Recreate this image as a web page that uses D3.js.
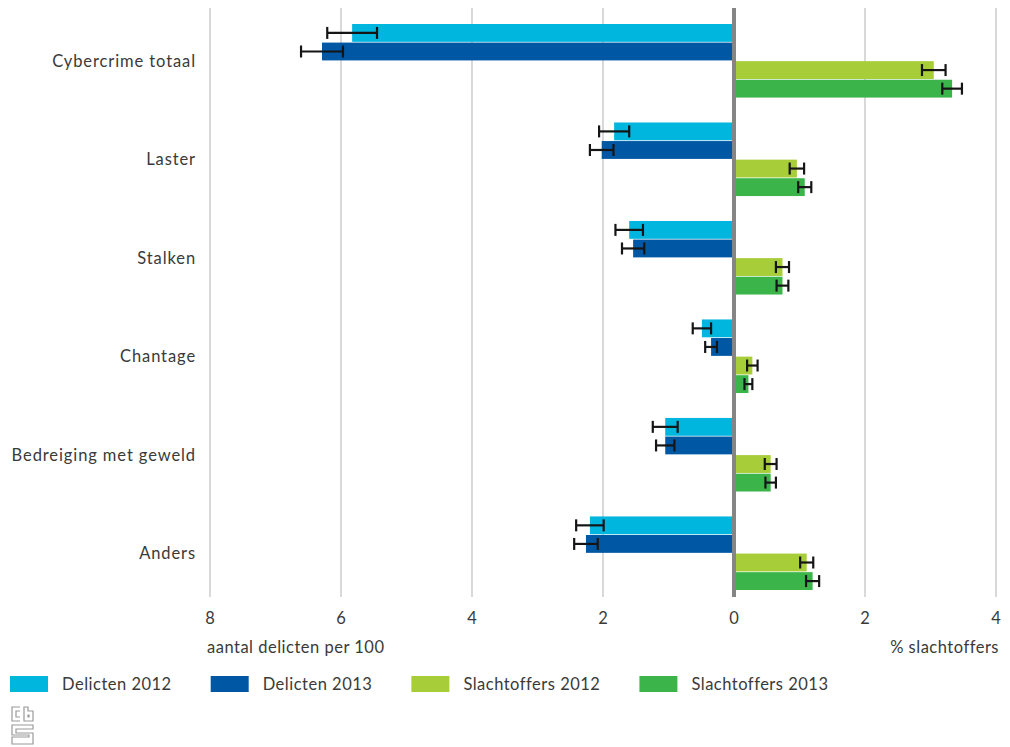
<!DOCTYPE html>
<html>
<head>
<meta charset="utf-8">
<script src="https://cdn.jsdelivr.net/npm/d3@7"></script>
<style>
  html, body { margin: 0; padding: 0; background: #fff; }
  svg { display: block; font-family: Lato, "Open Sans", sans-serif; }
</style>
</head>
<body>
<svg id="chart" width="1010" height="747"></svg>
<script>
// Categories, top to bottom
const categories = ["Cybercrime totaal", "Laster", "Stalken", "Chantage", "Bedreiging met geweld", "Anders"];

// Offences per 100 inhabitants (drawn to the left of zero)
const delicten2012 = [5.83, 1.83, 1.60, 0.49, 1.05, 2.20];
const delicten2013 = [6.29, 2.02, 1.54, 0.35, 1.05, 2.26];
// Half-width of the confidence intervals
const delicten2012Err = [0.38, 0.23, 0.21, 0.14, 0.19, 0.21];
const delicten2013Err = [0.32, 0.18, 0.17, 0.09, 0.14, 0.18];

// Percentage of victims (drawn to the right of zero)
const slachtoffers2012 = [3.05, 0.96, 0.74, 0.28, 0.56, 1.11];
const slachtoffers2013 = [3.33, 1.08, 0.74, 0.22, 0.56, 1.20];
const slachtoffers2012Err = [0.18, 0.11, 0.10, 0.08, 0.09, 0.10];
const slachtoffers2013Err = [0.15, 0.10, 0.09, 0.06, 0.08, 0.10];

const seriesNames = ["Delicten 2012", "Delicten 2013", "Slachtoffers 2012", "Slachtoffers 2013"];
const seriesColors = ["#00b5de", "#0057a4", "#a7cd39", "#3bb44a"];

const leftTicks = [8, 6, 4, 2, 0];
const rightTicks = [2, 4];
const leftTitle = "aantal delicten per 100";
const rightTitle = "% slachtoffers";

// Series table: delicten are mirrored to negative values
const series = [
  { name: seriesNames[0], color: seriesColors[0], values: delicten2012, errs: delicten2012Err, sign: -1 },
  { name: seriesNames[1], color: seriesColors[1], values: delicten2013, errs: delicten2013Err, sign: -1 },
  { name: seriesNames[2], color: seriesColors[2], values: slachtoffers2012, errs: slachtoffers2012Err, sign: 1 },
  { name: seriesNames[3], color: seriesColors[3], values: slachtoffers2013, errs: slachtoffers2013Err, sign: 1 }
];

const svg = d3.select("#chart");
const textColor = "#3a3a3a";
const fontSize = 16.5;
const spacing = 0.9;
const plotTop = 8, plotBottom = 597;

const x = d3.scaleLinear().domain([-8, 4]).range([210, 996]);

const y = d3.scaleBand()
  .domain(categories)
  .range([24, 590])
  .paddingInner(0.253)
  .paddingOuter(0);

const ySub = d3.scaleBand()
  .domain(d3.range(series.length))
  .range([0, y.bandwidth()])
  .paddingInner(0.04);

// Vertical grid lines
const gridVals = [-8, -6, -4, -2, 2, 4];
svg.append("g")
  .selectAll("line")
  .data(gridVals)
  .join("line")
  .attr("x1", d => x(d)).attr("x2", d => x(d))
  .attr("y1", plotTop).attr("y2", plotBottom)
  .attr("stroke", "#c4c4c4")
  .attr("stroke-width", 1.3);

// Bars
const groups = svg.append("g")
  .selectAll("g")
  .data(categories)
  .join("g")
  .attr("transform", d => `translate(0,${y(d)})`);

groups.each(function(cat, ci) {
  const g = d3.select(this);
  series.forEach((s, si) => {
    const v = s.sign * s.values[ci];
    const e = s.errs[ci];
    const y0 = ySub(si);
    const h = ySub.bandwidth();
    g.append("rect")
      .attr("x", Math.min(x(0), x(v)))
      .attr("y", y0)
      .attr("width", Math.abs(x(v) - x(0)))
      .attr("height", h)
      .attr("fill", s.color);

    // Error bar
    const lo = x(v - e), hi = x(v + e), cy = y0 + h / 2;
    const eb = g.append("g").attr("stroke", "#151515").attr("stroke-width", 2.2);
    eb.append("line").attr("x1", lo).attr("x2", hi).attr("y1", cy).attr("y2", cy);
    eb.append("line").attr("x1", lo).attr("x2", lo).attr("y1", cy - 6).attr("y2", cy + 6);
    eb.append("line").attr("x1", hi).attr("x2", hi).attr("y1", cy - 6).attr("y2", cy + 6);
  });
});

// Zero line
svg.append("line")
  .attr("x1", x(0)).attr("x2", x(0))
  .attr("y1", plotTop).attr("y2", plotBottom)
  .attr("stroke", "#858585")
  .attr("stroke-width", 4);

// Category labels
svg.append("g")
  .selectAll("text")
  .data(categories)
  .join("text")
  .attr("x", 196)
  .attr("y", d => y(d) + y.bandwidth() / 2)
  .attr("dy", "0.35em")
  .attr("text-anchor", "end")
  .attr("fill", textColor)
  .attr("font-size", fontSize)
  .attr("letter-spacing", spacing)
  .text(d => d);

// Axis tick labels
const tickData = leftTicks.map(t => ({ v: -t, label: t }))
  .concat(rightTicks.map(t => ({ v: t, label: t })));
svg.append("g")
  .selectAll("text")
  .data(tickData)
  .join("text")
  .attr("x", d => x(d.v))
  .attr("y", 618)
  .attr("dy", "0.35em")
  .attr("text-anchor", "middle")
  .attr("fill", textColor)
  .attr("font-size", fontSize)
  .text(d => d.label);

// Axis titles
svg.append("text")
  .attr("x", 207).attr("y", 647).attr("dy", "0.35em")
  .attr("fill", textColor).attr("font-size", fontSize).attr("letter-spacing", 0.5)
  .text(leftTitle);
svg.append("text")
  .attr("x", 999).attr("y", 647).attr("dy", "0.35em")
  .attr("text-anchor", "end")
  .attr("fill", textColor).attr("font-size", fontSize).attr("letter-spacing", 0.5)
  .text(rightTitle);

// Legend
const legend = svg.append("g").attr("transform", "translate(10,676)");
let lx = 0;
series.forEach(s => {
  const item = legend.append("g").attr("transform", `translate(${lx},0)`);
  item.append("rect").attr("width", 38).attr("height", 16).attr("fill", s.color);
  const t = item.append("text")
    .attr("x", 52).attr("y", 8).attr("dy", "0.35em")
    .attr("fill", textColor).attr("font-size", fontSize).attr("letter-spacing", 0.5)
    .text(s.name);
  lx += 52 + t.node().getComputedTextLength() + 39;
});

// CBS mark
const logo = svg.append("g")
  .attr("transform", "translate(11,706)")
  .attr("fill", "none")
  .attr("stroke", "#9a9a9a")
  .attr("stroke-width", 1.2);
logo.append("path").attr("d", "M9,1 H1 V15 H9 M9,5 H5 V11 H9");
logo.append("path").attr("d", "M13,1 V15 H22 V5 H17 V1 Z M17,9 H18 V11 H17 Z");
logo.append("path").attr("d", "M22,19 H1 V29 H18 V31 H1 V38 H22 V27 H5 V23 H22 Z");
</script>
</body>
</html>
